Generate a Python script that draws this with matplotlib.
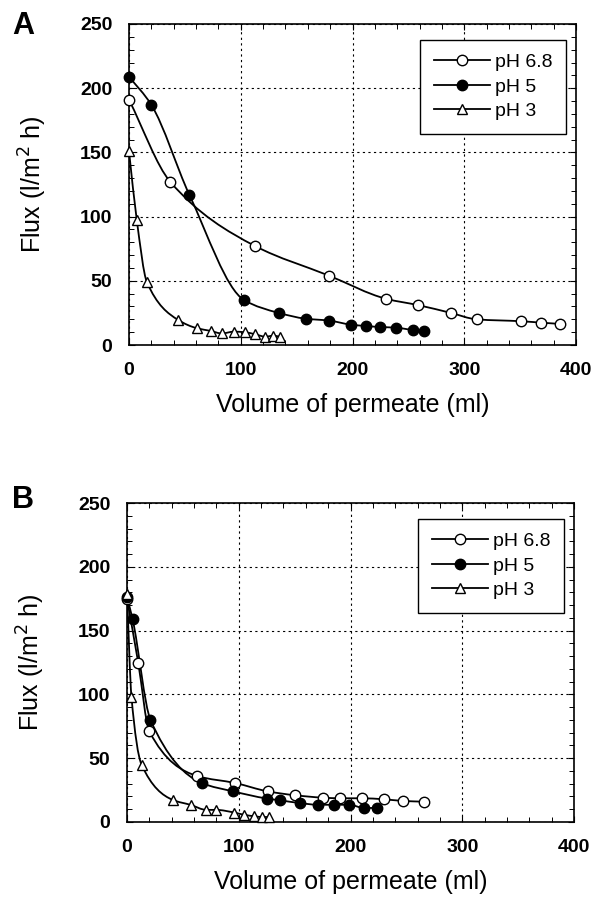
import matplotlib
matplotlib.use("Agg")
import matplotlib.pyplot as plt
import numpy as np
from matplotlib.ticker import MultipleLocator
from matplotlib.path import Path
from matplotlib.patches import PathPatch

plt.rcParams['font.family'] = ['Liberation Sans', 'DejaVu Sans']

# ---- Panel A data ----
a68_x = [0, 37, 113, 179, 230, 259, 288, 311, 351, 369, 386]
a68_y = [191, 127, 77, 54, 36, 31, 25, 20, 18.5, 17.4, 16.4]
a5_x = [0, 20, 54, 103, 134, 158, 179, 199, 212, 225, 239, 254, 264]
a5_y = [209, 187, 117, 35, 25, 20.5, 19, 15.8, 14.8, 14, 13.5, 11.7, 11]
a3_x = [0, 7, 16, 44, 61, 73, 83, 94, 104, 113, 122, 129, 135]
a3_y = [151, 97, 49, 19.5, 13, 11, 9, 10.4, 9.9, 8.3, 6.5, 7.2, 6.5]

# ---- Panel B data ----
b68_x = [0, 10, 20, 63, 97, 126, 150, 175, 191, 210, 230, 247, 266]
b68_y = [175, 125, 71, 36, 30.5, 24, 21, 19.1, 18.6, 18.6, 17.8, 16.5, 15.9]
b5_x = [0, 5, 21, 67, 95, 125, 137, 155, 171, 185, 199, 212, 224]
b5_y = [176, 159, 80, 30.5, 24, 18.4, 17, 14.8, 13.5, 13.5, 13.5, 11, 11]
b3_x = [0, 4, 13, 41, 57, 71, 80, 96, 105, 114, 121, 127]
b3_y = [179, 98, 45, 17.3, 13.4, 9.5, 9.5, 7.4, 5.6, 4.5, 3.9, 3.9]

labels = ['pH 6.8', 'pH 5', 'pH 3']
x_ticks = [0, 100, 200, 300, 400]
y_ticks = [0, 50, 100, 150, 200, 250]

fig = plt.figure(figsize=(5.95, 9.02), dpi=100)


def smooth_path(x, y):
    """Bezier path through the data points (monotone cubic tangents)."""
    x = np.asarray(x, float)
    y = np.asarray(y, float)
    h = np.diff(x)
    d = np.diff(y) / h
    n = len(x)
    m = np.zeros(n)
    m[0] = d[0]
    m[-1] = d[-1]
    for k in range(1, n - 1):
        if d[k - 1] * d[k] <= 0:
            m[k] = 0.0
        else:
            w1 = 2 * h[k] + h[k - 1]
            w2 = h[k] + 2 * h[k - 1]
            m[k] = (w1 + w2) / (w1 / d[k - 1] + w2 / d[k])
    verts = [(x[0], y[0])]
    codes = [Path.MOVETO]
    for i in range(n - 1):
        verts += [(x[i] + h[i] / 3, y[i] + m[i] * h[i] / 3),
                  (x[i + 1] - h[i] / 3, y[i + 1] - m[i + 1] * h[i] / 3),
                  (x[i + 1], y[i + 1])]
        codes += [Path.CURVE4] * 3
    return Path(verts, codes)


def panel(rect, data, letter, letter_y, legend_anchor):
    ax = fig.add_axes(rect)
    styles = [dict(marker='o', mfc='white'),
              dict(marker='o', mfc='black'),
              dict(marker='^', mfc='white')]
    lw = 1.3
    for (xs, ys), st, lab in zip(data, styles, labels):
        ax.add_patch(PathPatch(smooth_path(xs, ys), fc='none', ec='black', lw=lw, zorder=2))
        ax.plot(xs, ys, linestyle='none', marker=st['marker'], mfc=st['mfc'], mec='black',
                ms=7.5, mew=1.0, zorder=3, clip_on=False)
        ax.plot([], [], '-', color='black', lw=lw, marker=st['marker'], mfc=st['mfc'],
                mec='black', ms=7.5, mew=1.0, label=lab)
    ax.set_xlim(0, 400)
    ax.set_ylim(0, 250)
    ax.set_xticks(x_ticks)
    ax.set_yticks(y_ticks)
    ax.xaxis.set_minor_locator(MultipleLocator(20))
    ax.yaxis.set_minor_locator(MultipleLocator(10))
    ax.tick_params(which='both', direction='in', top=True, right=True, color='black')
    ax.tick_params(which='major', length=4.5, width=0.8)
    ax.tick_params(which='minor', length=3.5, width=0.7)
    ax.tick_params(axis='x', which='major', pad=12, labelsize=14)
    ax.tick_params(axis='y', which='major', pad=12, labelsize=14)
    for lab in ax.get_xticklabels() + ax.get_yticklabels():
        lab.set_fontweight('bold')
    for sp in ax.spines.values():
        sp.set_linewidth(1.2)
    ax.grid(True, which='major', linestyle=(0, (2, 3)), color='black', lw=0.8)
    ax.set_axisbelow(True)
    ax.set_ylabel('Flux (l/m$^2$ h)', fontsize=18, labelpad=22)
    ax.set_xlabel('Volume of permeate (ml)', fontsize=18, labelpad=10)
    leg = ax.legend(loc='upper right', bbox_to_anchor=legend_anchor, fontsize=14,
                    frameon=True, fancybox=False, edgecolor='black', framealpha=1,
                    handlelength=2.9, handletextpad=0.25, borderpad=0.7, labelspacing=0.35,
                    borderaxespad=0)
    leg.get_frame().set_linewidth(1.0)
    fig.text(12 / 595, 1 - letter_y / 902, letter, fontsize=22, fontweight='bold', va='center', ha='left')
    return ax


panel([129 / 595, 1 - 345 / 902, 447 / 595, 321 / 902],
      [(a68_x, a68_y), (a5_x, a5_y), (a3_x, a3_y)], 'A', 26, (0.978, 0.95))
panel([127 / 595, 1 - 822 / 902, 447 / 595, 319 / 902],
      [(b68_x, b68_y), (b5_x, b5_y), (b3_x, b3_y)], 'B', 500, (0.978, 0.95))

fig.savefig('out.png', dpi=100)
